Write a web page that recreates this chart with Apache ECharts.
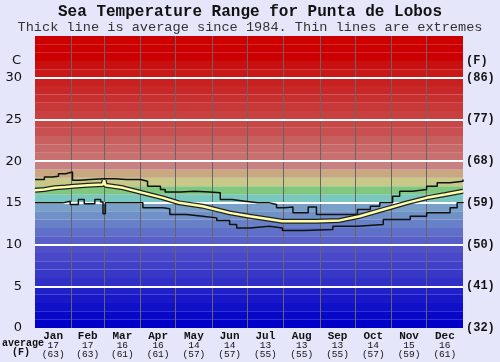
<!DOCTYPE html>
<html>
<head>
<meta charset="utf-8">
<script src="https://cdn.jsdelivr.net/npm/echarts@6/dist/echarts.min.js"></script>
<style>
  html, body { margin: 0; padding: 0; background: #e6e6fa; }
  #chart { width: 500px; height: 362px; }
</style>
</head>
<body>
<div id="chart"></div>
<script>
// month labels and monthly averages (C / F)
const months = ['Jan','Feb','Mar','Apr','May','Jun','Jul','Aug','Sep','Oct','Nov','Dec'];
const monthDays = [31,28,31,30,31,30,31,31,30,31,30,31];
const avgC = [17,17,16,16,14,14,13,13,13,14,15,16];
const avgF = [63,63,61,61,57,57,55,55,55,57,59,61];

// [day of year, temperature C]
const maxLine = [
  [0,17.8],[8,18.1],[15,18.2],[20,18.5],[26,18.7],[32,17.7],[38,17.8],[47,17.9],[58,17.9],
  [68,17.8],[78,17.8],[90,17.6],[96,17.0],[107,16.6],[111,16.3],[124,16.4],[136,16.3],
  [149,16.2],[158,15.4],[168,15.2],[179,15.0],[190,15.0],[200,14.8],[206,14.4],[213,14.5],
  [220,13.8],[233,14.5],[240,13.6],[260,13.6],[275,14.2],[286,14.6],[294,15.0],[305,15.8],
  [311,16.4],[322,16.6],[334,17.0],[343,17.4],[354,17.6],[365,17.8]
];
const avgLine = [
  [0,16.5],[8,16.6],[17,16.8],[26,16.9],[33,17.0],[45,17.1],[58,17.2],[59,17.7],[60,17.1],
  [75,16.8],[92,16.2],[109,15.6],[123,15.0],[143,14.6],[166,13.8],[183,13.4],[211,12.8],
  [240,12.8],[260,12.9],[277,13.4],[297,14.2],[317,15.0],[334,15.6],[350,16.0],[365,16.4]
];
const minLine = [
  [0,15.0],[20,15.0],[24,15.2],[30,14.8],[37,15.4],[42,14.9],[51,15.4],[56,15.1],[58,13.7],
  [60,15.0],[87,15.0],[92,14.4],[109,14.3],[115,13.6],[129,13.4],[143,13.2],[155,12.9],
  [166,12.4],[172,12.0],[183,12.2],[200,12.0],[211,11.7],[230,11.8],[254,12.2],[275,12.4],
  [297,13.0],[320,13.4],[334,13.8],[354,14.4],[360,15.0],[365,15.1]
];

// one colour per degree, 0..35
const bandColors = [
  '#0000c8','#0808c8','#1010c8','#1818c8','#2020c8',
  '#3030c8','#3838c8','#4040c8','#4848c8','#5050c8',
  '#5860c8','#6070c8','#6880c8','#7090c8','#78a0c8',
  '#78c8c0','#80c880','#c8c888','#c8a880','#c88080',
  '#c87070','#c86868','#c86060','#c85050','#c84848',
  '#c84040','#c83838','#c83030','#c82828','#c82020',
  '#c81818','#c81010','#cc0000','#cc0000','#cc0000'
];

const monthStarts = [];
const monthMids = [];
let acc = 0;
monthDays.forEach(d => { monthStarts.push(acc); monthMids.push(acc + d / 2); acc += d; });

function monthIndex(v) {
  let best = 0;
  monthMids.forEach((m, i) => { if (Math.abs(m - v) < Math.abs(monthMids[best] - v)) best = i; });
  return best;
}

const chart = echarts.init(document.getElementById('chart'));

const bandAreas = bandColors.map((c, i) => [
  { yAxis: i, itemStyle: { color: c } },
  { yAxis: i + 1 }
]);
const gridLines = [
  ...monthStarts.slice(1).map(d => ({ xAxis: d, lineStyle: { color: '#666', width: 1, type: 'solid' } })),
  ...[5,10,15,20,25,30].map(v => ({ yAxis: v, lineStyle: { color: '#fff', width: 2, type: 'solid' } }))
];

chart.setOption({
  animation: false,
  backgroundColor: '#e6e6fa',
  title: [
    { text: 'Sea Temperature Range for Punta de Lobos', left: 'center', top: 4, padding: 0,
      textStyle: { fontFamily: 'Liberation Mono', fontWeight: 'bold', fontSize: 16, color: '#111' } },
    { text: 'Thick line is average since 1984. Thin lines are extremes', left: 'center', top: 20, padding: 0,
      textStyle: { fontFamily: 'Liberation Mono', fontWeight: 'normal', fontSize: 13.6, color: '#333' } }
  ],
  grid: { left: 35, right: 37, top: 36, bottom: 34, containLabel: false },
  xAxis: {
    type: 'value', min: 0, max: 365,
    axisLine: { show: false }, axisTick: { show: false }, splitLine: { show: false },
    axisLabel: {
      customValues: monthMids,
      margin: 3,
      formatter: v => {
        const i = monthIndex(v);
        return '{m|' + months[i] + '}\n{v|' + avgC[i] + '}\n{v|(' + avgF[i] + ')}';
      },
      rich: {
        m: { fontFamily: 'Liberation Mono', fontWeight: 'bold', fontSize: 11, lineHeight: 10, color: '#111' },
        v: { fontFamily: 'Liberation Mono', fontSize: 9.5, lineHeight: 9, color: '#111' }
      }
    }
  },
  yAxis: [
    {
      type: 'value', min: 0, max: 35, interval: 5,
      axisLine: { show: false }, axisTick: { show: false }, splitLine: { show: false },
      axisLabel: { margin: 13, fontFamily: 'DejaVu Sans', fontSize: 13, color: '#111',
        formatter: v => v === 35 ? '' : String(v) }
    },
    {
      type: 'value', min: 0, max: 35, interval: 5, position: 'right',
      axisLine: { show: false }, axisTick: { show: false }, splitLine: { show: false },
      axisLabel: { margin: 3, fontFamily: 'Liberation Mono', fontWeight: 'bold', fontSize: 12, color: '#111',
        formatter: v => v === 35 ? '' : '(' + Math.round(v * 9 / 5 + 32) + ')' }
    }
  ],
  graphic: [
    { type: 'text', left: 12, top: 54, style: { text: 'C', font: '13px "DejaVu Sans"', fill: '#111' } },
    { type: 'text', left: 466, top: 55, style: { text: '(F)', font: 'bold 12px "Liberation Mono"', fill: '#111' } },
    { type: 'text', left: 2, top: 338, style: { text: 'average', font: 'bold 10px "Liberation Mono"', fill: '#111' } },
    { type: 'text', left: 12, top: 347, style: { text: '(F)', font: 'bold 10px "Liberation Mono"', fill: '#111' } }
  ],
  series: [
    {
      name: 'bands', type: 'line', data: [], z: 1, silent: true,
      markArea: { silent: true, z: 1, data: bandAreas },
      markLine: { silent: true, z: 2, symbol: 'none', label: { show: false }, data: gridLines }
    },
    {
      name: 'max', type: 'line', data: maxLine, step: 'end', showSymbol: false, z: 3,
      lineStyle: { color: '#111', width: 1.5 }
    },
    {
      name: 'min', type: 'line', data: minLine, step: 'end', showSymbol: false, z: 3,
      lineStyle: { color: '#111', width: 1.5 }
    },
    {
      name: 'avgEdge', type: 'line', data: avgLine, showSymbol: false, z: 4,
      lineStyle: { color: '#222', width: 5 }
    },
    {
      name: 'avg', type: 'line', data: avgLine, showSymbol: false, z: 5,
      lineStyle: { color: '#ffffa8', width: 2.5 }
    }
  ]
});
</script>
</body>
</html>
